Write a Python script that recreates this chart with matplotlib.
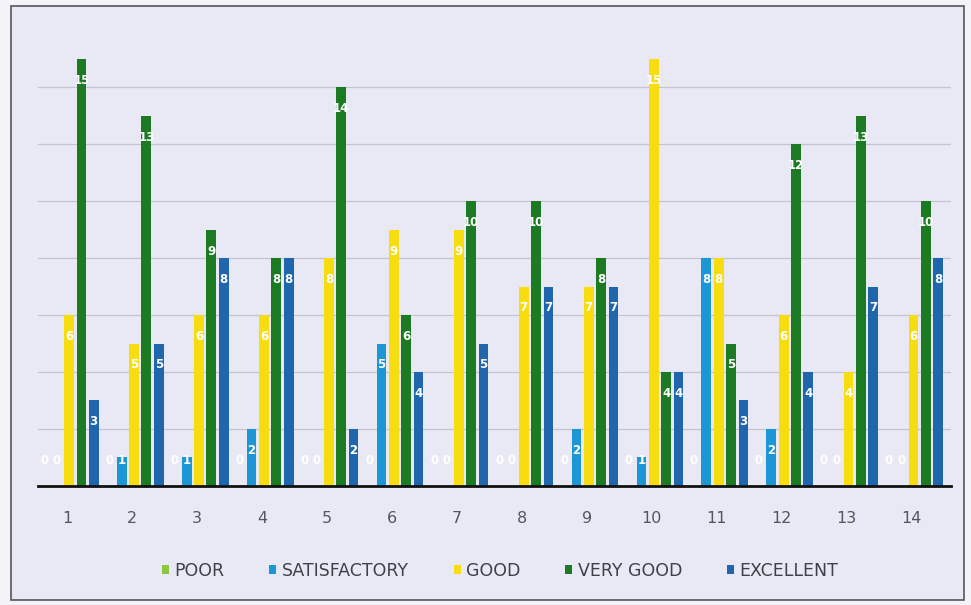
import numpy as np
import matplotlib
matplotlib.use("Agg")
import matplotlib.pyplot as plt
from matplotlib.patches import Rectangle

# data
groups = [str(i) for i in range(1, 15)]
series = ["POOR", "SATISFACTORY", "GOOD", "VERY GOOD", "EXCELLENT"]
poor = [0, 0, 0, 0, 0, 0, 0, 0, 0, 0, 0, 0, 0, 0]
satisfactory = [0, 1, 1, 2, 0, 5, 0, 0, 2, 1, 8, 2, 0, 0]
good = [6, 5, 6, 6, 8, 9, 9, 7, 7, 15, 8, 6, 4, 6]
very_good = [15, 13, 9, 8, 14, 6, 10, 10, 8, 4, 5, 12, 13, 10]
excellent = [3, 5, 8, 8, 2, 4, 5, 7, 7, 4, 3, 4, 7, 8]

colors = ["#8cc63f", "#1c96d4", "#f7dc0f", "#1c7a22", "#1f66ad"]
bg = "#e9e9f5"

fig = plt.figure(figsize=(9.71, 6.05), dpi=100)
fig.patch.set_facecolor("#f4f4f8")
# chart frame
frame = Rectangle((0.011, 0.008), 0.982, 0.982, transform=fig.transFigure,
                  facecolor=bg, edgecolor="#555560", linewidth=1.2, zorder=-5)
fig.patches.append(frame)

ax = fig.add_axes([0.039, 0.197, 0.940, 0.748])
ax.set_zorder(2)
ax.set_facecolor("none")

x = np.arange(len(groups))
w = 0.15
step = 0.19
data = [poor, satisfactory, good, very_good, excellent]
for i, (name, vals, c) in enumerate(zip(series, data, colors)):
    pos = x + (i - 2) * step + 0.03
    ax.bar(pos, vals, width=w, color=c, label=name, zorder=3)
    for p, v in zip(pos, vals):
        yy = v - 0.75 if v >= 2 else 0.9
        ax.text(p, yy, str(v), ha="center", va="center", color="white",
                fontsize=8.5, fontweight="bold", zorder=4)

ax.set_xlim(-0.45, 13.6)
ax.set_ylim(0, 15.9)
ax.set_yticks(np.arange(2, 16, 2))
ax.yaxis.grid(True, color="#c4c4d0", linewidth=0.9, zorder=0)
ax.set_axisbelow(True)
ax.tick_params(axis="y", length=0, labelleft=False)
ax.set_xticks(x)
ax.set_xticklabels(groups, fontsize=11.5, color="#555560")
ax.tick_params(axis="x", length=0, pad=18)
for s in ["top", "right", "left"]:
    ax.spines[s].set_visible(False)
ax.spines["bottom"].set_color("#111111")
ax.spines["bottom"].set_linewidth(2)
ax.spines["bottom"].set_zorder(5)

leg = fig.legend(loc="center", bbox_to_anchor=(0.515, 0.057), ncol=5, frameon=False,
                 fontsize=12.5, handlelength=0.4, handleheight=0.4, handletextpad=0.3,
                 columnspacing=2.6)
for t in leg.get_texts():
    t.set_color("#404048")

fig.savefig("out.png", dpi=100, facecolor=fig.get_facecolor())
